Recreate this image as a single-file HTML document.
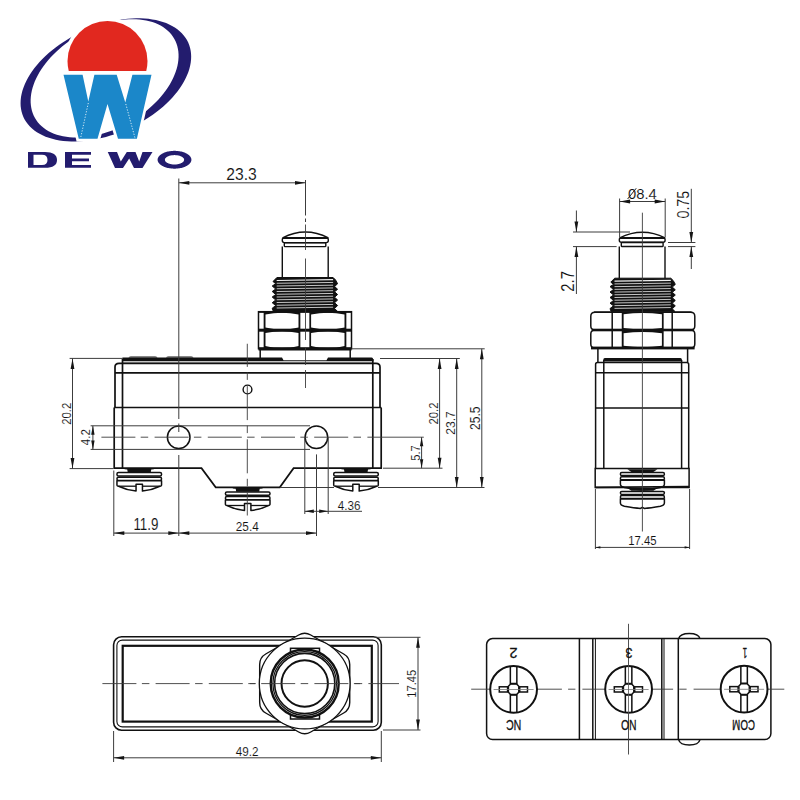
<!DOCTYPE html>
<html><head><meta charset="utf-8"><style>
html,body{margin:0;padding:0;background:#fff;}
svg{display:block;}
</style></head><body>
<svg width="800" height="800" viewBox="0 0 800 800">
<rect width="800" height="800" fill="#fff"/>
<path d="M188.23,42.62 L189.28,45.23 L190.10,47.95 L190.69,50.75 L191.05,53.63 L191.17,56.58 L191.06,59.59 L190.71,62.67 L190.13,65.78 L189.33,68.94 L188.29,72.13 L187.03,75.34 L185.54,78.56 L183.84,81.78 L181.92,85.00 L179.79,88.21 L177.46,91.39 L174.94,94.54 L172.22,97.65 L169.33,100.71 L166.26,103.72 L163.02,106.65 L159.63,109.52 L156.09,112.31 L152.41,115.00 L148.61,117.60 L144.68,120.10 L140.65,122.48 L136.53,124.75 L132.32,126.90 L128.04,128.92 L123.70,130.80 L119.31,132.54 L114.88,134.14 L110.43,135.59 L105.97,136.89 L101.50,138.03 L97.05,139.01 L92.62,139.83 L88.23,140.49 L83.88,140.98 L79.60,141.30 L75.39,141.45 L71.26,141.44 L67.23,141.25 L63.30,140.90 L59.49,140.38 L55.80,139.70 L52.26,138.85 L48.86,137.84 L45.61,136.67 L42.53,135.34 L39.63,133.87 L36.91,132.24 L34.37,130.47 L32.03,128.56 L29.90,126.52 L27.97,124.35 L26.26,122.06 L24.76,119.66 L23.49,117.14 L22.44,114.53 L21.62,111.81 L21.03,109.01 L20.67,106.13 L20.55,103.18 L20.66,100.17 L21.01,97.09 L21.59,93.98 L22.39,90.82 L23.43,87.63 L24.69,84.42 L26.18,81.20 L27.88,77.98 L29.80,74.76 L31.93,71.55 L34.26,68.37 L36.78,65.22 L39.50,62.11 L42.39,59.05 L45.46,56.04 L48.70,53.11 L52.09,50.24 L55.63,47.45 L59.31,44.76 L63.11,42.16 L67.04,39.66 L71.07,37.28 L75.19,35.01 L79.40,32.86 L83.68,30.84 L88.02,28.96 L92.41,27.22 L96.84,25.62 L101.29,24.17 L105.75,22.87 L110.22,21.73 L114.67,20.75 L119.10,19.93 L123.49,19.27 L127.84,18.78 L132.12,18.46 L136.33,18.31 L140.46,18.32 L144.49,18.51 L148.42,18.86 L152.23,19.38 L155.92,20.06 L159.46,20.91 L162.86,21.92 L166.11,23.09 L169.19,24.42 L172.09,25.89 L174.81,27.52 L177.35,29.29 L179.69,31.20 L181.82,33.24 L183.75,35.41 L185.46,37.70 L186.96,40.10 Z M174.21,38.65 L175.43,41.00 L176.45,43.46 L177.27,46.00 L177.89,48.64 L178.32,51.36 L178.54,54.15 L178.56,57.01 L178.37,59.93 L177.98,62.90 L177.40,65.91 L176.61,68.95 L175.62,72.02 L174.44,75.11 L173.07,78.20 L171.52,81.30 L169.77,84.39 L167.85,87.46 L165.76,90.51 L163.50,93.52 L161.07,96.50 L158.50,99.42 L155.77,102.28 L152.91,105.08 L149.91,107.81 L146.79,110.45 L143.55,113.01 L140.20,115.47 L136.76,117.84 L133.23,120.09 L129.62,122.23 L125.94,124.24 L122.21,126.14 L118.42,127.90 L114.60,129.52 L110.75,131.01 L106.88,132.35 L103.01,133.54 L99.14,134.58 L95.29,135.47 L91.46,136.20 L87.67,136.77 L83.93,137.19 L80.24,137.44 L76.61,137.53 L73.07,137.45 L69.61,137.22 L66.25,136.82 L62.99,136.27 L59.85,135.55 L56.82,134.68 L53.93,133.65 L51.18,132.48 L48.58,131.15 L46.13,129.68 L43.84,128.07 L41.71,126.32 L39.76,124.44 L37.98,122.43 L36.39,120.31 L34.99,118.07 L33.77,115.72 L32.75,113.26 L31.93,110.72 L31.31,108.08 L30.88,105.36 L30.66,102.57 L30.64,99.71 L30.83,96.79 L31.22,93.82 L31.80,90.81 L32.59,87.77 L33.58,84.70 L34.76,81.61 L36.13,78.52 L37.68,75.42 L39.43,72.33 L41.35,69.26 L43.44,66.21 L45.70,63.20 L48.13,60.22 L50.70,57.30 L53.43,54.44 L56.29,51.64 L59.29,48.91 L62.41,46.27 L65.65,43.71 L69.00,41.25 L72.44,38.88 L75.97,36.63 L79.58,34.49 L83.26,32.48 L86.99,30.58 L90.78,28.82 L94.60,27.20 L98.45,25.71 L102.32,24.37 L106.19,23.18 L110.06,22.14 L113.91,21.25 L117.74,20.52 L121.53,19.95 L125.27,19.53 L128.96,19.28 L132.59,19.19 L136.13,19.27 L139.59,19.50 L142.95,19.90 L146.21,20.45 L149.35,21.17 L152.38,22.04 L155.27,23.07 L158.02,24.24 L160.62,25.57 L163.07,27.04 L165.36,28.65 L167.49,30.40 L169.44,32.28 L171.22,34.29 L172.81,36.41 Z" fill="#231c6e" fill-rule="evenodd"/>
<clipPath id="rc"><rect x="0" y="0" width="300" height="71"/></clipPath>
<circle cx="107.5" cy="61" r="43.5" fill="#fff" clip-path="url(#rc)"/>
<circle cx="107.5" cy="61" r="40" fill="#e1281f" clip-path="url(#rc)"/>
<path d="M63.5,74.8 L82.6,74.8 L88.3,101.5 L94.4,74.8 L116.7,74.8 L125.3,102.5 L132.4,74.8 L151.5,74.8 L136.9,138.75 L118,138.75 L107.5,104 L97.5,138.75 L78.75,138.75 Z" fill="#fff" stroke="#fff" stroke-width="5.5" stroke-linejoin="miter"/>
<path d="M63.5,74.8 L82.6,74.8 L88.3,101.5 L94.4,74.8 L116.7,74.8 L125.3,102.5 L132.4,74.8 L151.5,74.8 L136.9,138.75 L118,138.75 L107.5,104 L97.5,138.75 L78.75,138.75 Z" fill="#1b87c9"/>
<path d="M88.3,103 L80.6,138 M125.8,104 L135,138" stroke="#fff" stroke-width="0.9" stroke-dasharray="1.2,1.6" opacity="0.9"/>
<path d="M28,152 H45 Q57,152 57,160 Q57,167.8 45,167.8 H28 Z M33.5,154.8 H42 Q47.5,154.8 47.5,160 Q47.5,165 42,165 H33.5 Z" fill="#231c6e" fill-rule="evenodd"/>
<path d="M65,152 H91 V154.8 H72 V158.6 H89 V161.2 H72 V165 H91 V167.8 H65 Z" fill="#231c6e"/>
<path d="M107.75,152 L117,152 L120.8,161.5 L126.8,152 L135.5,152 L139.2,161.5 L142.5,152 L152.5,152 L142.5,168 L134,168 L129.2,158.5 L123,168 L115,168 Z" fill="#231c6e"/>
<path d="M191.40,159.75 L191.38,160.22 L191.31,160.68 L191.19,161.14 L191.03,161.60 L190.82,162.05 L190.57,162.50 L190.28,162.94 L189.94,163.37 L189.56,163.79 L189.14,164.20 L188.67,164.60 L188.17,164.98 L187.63,165.35 L187.06,165.71 L186.45,166.04 L185.81,166.36 L185.14,166.67 L184.43,166.95 L183.70,167.21 L182.95,167.46 L182.17,167.68 L181.37,167.88 L180.56,168.06 L179.72,168.21 L178.87,168.35 L178.01,168.46 L177.14,168.54 L176.27,168.60 L175.38,168.64 L174.50,168.65 L173.62,168.64 L172.73,168.60 L171.86,168.54 L170.99,168.46 L170.13,168.35 L169.28,168.21 L168.44,168.06 L167.63,167.88 L166.83,167.68 L166.05,167.46 L165.30,167.21 L164.57,166.95 L163.86,166.67 L163.19,166.36 L162.55,166.04 L161.94,165.71 L161.37,165.35 L160.83,164.98 L160.33,164.60 L159.86,164.20 L159.44,163.79 L159.06,163.37 L158.72,162.94 L158.43,162.50 L158.18,162.05 L157.97,161.60 L157.81,161.14 L157.69,160.68 L157.62,160.22 L157.60,159.75 L157.62,159.28 L157.69,158.82 L157.81,158.36 L157.97,157.90 L158.18,157.45 L158.43,157.00 L158.72,156.56 L159.06,156.13 L159.44,155.71 L159.86,155.30 L160.33,154.90 L160.83,154.52 L161.37,154.15 L161.94,153.79 L162.55,153.46 L163.19,153.14 L163.86,152.83 L164.57,152.55 L165.30,152.29 L166.05,152.04 L166.83,151.82 L167.63,151.62 L168.44,151.44 L169.28,151.29 L170.13,151.15 L170.99,151.04 L171.86,150.96 L172.73,150.90 L173.62,150.86 L174.50,150.85 L175.38,150.86 L176.27,150.90 L177.14,150.96 L178.01,151.04 L178.87,151.15 L179.72,151.29 L180.56,151.44 L181.37,151.62 L182.17,151.82 L182.95,152.04 L183.70,152.29 L184.43,152.55 L185.14,152.83 L185.81,153.14 L186.45,153.46 L187.06,153.79 L187.63,154.15 L188.17,154.52 L188.67,154.90 L189.14,155.30 L189.56,155.71 L189.94,156.13 L190.28,156.56 L190.57,157.00 L190.82,157.45 L191.03,157.90 L191.19,158.36 L191.31,158.82 L191.38,159.28 Z M184.10,159.80 L184.09,160.05 L184.05,160.29 L183.98,160.54 L183.89,160.78 L183.77,161.02 L183.63,161.25 L183.46,161.48 L183.27,161.71 L183.05,161.93 L182.81,162.15 L182.55,162.36 L182.27,162.56 L181.96,162.76 L181.63,162.94 L181.29,163.12 L180.92,163.29 L180.54,163.45 L180.14,163.60 L179.73,163.74 L179.30,163.87 L178.86,163.99 L178.40,164.09 L177.94,164.19 L177.47,164.27 L176.98,164.34 L176.50,164.40 L176.00,164.44 L175.50,164.47 L175.00,164.49 L174.50,164.50 L174.00,164.49 L173.50,164.47 L173.00,164.44 L172.50,164.40 L172.02,164.34 L171.53,164.27 L171.06,164.19 L170.60,164.09 L170.14,163.99 L169.70,163.87 L169.27,163.74 L168.86,163.60 L168.46,163.45 L168.08,163.29 L167.71,163.12 L167.37,162.94 L167.04,162.76 L166.73,162.56 L166.45,162.36 L166.19,162.15 L165.95,161.93 L165.73,161.71 L165.54,161.48 L165.37,161.25 L165.23,161.02 L165.11,160.78 L165.02,160.54 L164.95,160.29 L164.91,160.05 L164.90,159.80 L164.91,159.55 L164.95,159.31 L165.02,159.06 L165.11,158.82 L165.23,158.58 L165.37,158.35 L165.54,158.12 L165.73,157.89 L165.95,157.67 L166.19,157.45 L166.45,157.24 L166.73,157.04 L167.04,156.84 L167.37,156.66 L167.71,156.48 L168.08,156.31 L168.46,156.15 L168.86,156.00 L169.27,155.86 L169.70,155.73 L170.14,155.61 L170.60,155.51 L171.06,155.41 L171.53,155.33 L172.02,155.26 L172.50,155.20 L173.00,155.16 L173.50,155.13 L174.00,155.11 L174.50,155.10 L175.00,155.11 L175.50,155.13 L176.00,155.16 L176.50,155.20 L176.98,155.26 L177.47,155.33 L177.94,155.41 L178.40,155.51 L178.86,155.61 L179.30,155.73 L179.73,155.86 L180.14,156.00 L180.54,156.15 L180.92,156.31 L181.29,156.48 L181.63,156.66 L181.96,156.84 L182.27,157.04 L182.55,157.24 L182.81,157.45 L183.05,157.67 L183.27,157.89 L183.46,158.12 L183.63,158.35 L183.77,158.58 L183.89,158.82 L183.98,159.06 L184.05,159.31 L184.09,159.55 Z" fill="#231c6e" fill-rule="evenodd"/>
<g fill="none" stroke="#111" stroke-width="1.7">
<path d="M115,407.5 V367 Q115,363.3 119,363.3 H376 Q380,363.3 380,367 V407.5"/>
<line x1="115" y1="372.8" x2="380" y2="372.8"/>
<line x1="114.2" y1="407.5" x2="381.2" y2="407.5"/>
<path d="M114.2,407.5 V468.2 H201.5 L215.7,487.3 H279.8 L293.6,468.2 H381.2 V407.5"/>
<line x1="122.5" y1="359" x2="122.5" y2="468.2"/>
<line x1="372.8" y1="359" x2="372.8" y2="468.2"/>
</g>
<path d="M122.5,357.5 H282 L283.5,360.2 H326.5 L328,357.5 H371.5 Q373.5,357.7 373.5,361.3 H122.5 Z" fill="#111"/>
<path d="M128.5,357.6 Q129,356.6 131,356.6 H155 Q157,356.6 157.5,357.6 Z M166,357.6 Q166.5,356.6 168.5,356.6 H191 Q193,356.6 193.5,357.6 Z" fill="#111"/>
<line x1="122.5" y1="363.3" x2="373" y2="363.3" stroke="#111" stroke-width="1.3"/>
<circle cx="178.7" cy="437.2" r="11.3" fill="none" stroke="#111" stroke-width="1.5"/>
<circle cx="316.4" cy="437.2" r="11.3" fill="none" stroke="#111" stroke-width="1.5"/>
<circle cx="247.5" cy="389.5" r="4.4" fill="none" stroke="#111" stroke-width="1.4"/>
<path d="M123.25,468.2 H155.25 Q154.25,469.5 151.25,469.5 L150.75,472.5 H127.75 L127.25,469.5 Q124.25,469.5 123.25,468.2 Z" fill="#111"/><rect x="116.95" y="472.59999999999997" width="44.6" height="3.4" rx="1.5" fill="#fff" stroke="#111" stroke-width="1.5"/><rect x="116.95" y="477.2" width="44.6" height="3.2" rx="1.5" fill="#fff" stroke="#111" stroke-width="1.5"/><path d="M116.95,480.7 H161.55 V485.2 Q161.55,486.2 159.25,486.5 Q151.25,490.4 142.45,491.09999999999997 V484.2 H136.05 V491.09999999999997 Q127.25,490.4 119.25,486.5 Q116.95,486.2 116.95,485.2 Z" fill="#fff" stroke="#111" stroke-width="1.5" stroke-linejoin="round"/><line x1="118.25" y1="486.2" x2="136.05" y2="486.2" stroke="#111" stroke-width="1.3"/><line x1="142.45" y1="486.2" x2="160.25" y2="486.2" stroke="#111" stroke-width="1.3"/>
<path d="M231.7,487.5 H263.7 Q262.7,488.8 259.7,488.8 L259.2,491.8 H236.2 L235.7,488.8 Q232.7,488.8 231.7,487.5 Z" fill="#111"/><rect x="225.39999999999998" y="491.9" width="44.6" height="3.4" rx="1.5" fill="#fff" stroke="#111" stroke-width="1.5"/><rect x="225.39999999999998" y="496.5" width="44.6" height="3.2" rx="1.5" fill="#fff" stroke="#111" stroke-width="1.5"/><path d="M225.39999999999998,500.0 H270.0 V504.5 Q270.0,505.5 267.7,505.8 Q259.7,509.7 250.89999999999998,510.4 V503.5 H244.5 V510.4 Q235.7,509.7 227.7,505.8 Q225.39999999999998,505.5 225.39999999999998,504.5 Z" fill="#fff" stroke="#111" stroke-width="1.5" stroke-linejoin="round"/><line x1="226.7" y1="505.5" x2="244.5" y2="505.5" stroke="#111" stroke-width="1.3"/><line x1="250.89999999999998" y1="505.5" x2="268.7" y2="505.5" stroke="#111" stroke-width="1.3"/>
<path d="M340,468.2 H372 Q371,469.5 368,469.5 L367.5,472.5 H344.5 L344,469.5 Q341,469.5 340,468.2 Z" fill="#111"/><rect x="333.7" y="472.59999999999997" width="44.6" height="3.4" rx="1.5" fill="#fff" stroke="#111" stroke-width="1.5"/><rect x="333.7" y="477.2" width="44.6" height="3.2" rx="1.5" fill="#fff" stroke="#111" stroke-width="1.5"/><path d="M333.7,480.7 H378.3 V485.2 Q378.3,486.2 376,486.5 Q368,490.4 359.2,491.09999999999997 V484.2 H352.8 V491.09999999999997 Q344,490.4 336,486.5 Q333.7,486.2 333.7,485.2 Z" fill="#fff" stroke="#111" stroke-width="1.5" stroke-linejoin="round"/><line x1="335" y1="486.2" x2="352.8" y2="486.2" stroke="#111" stroke-width="1.3"/><line x1="359.2" y1="486.2" x2="377" y2="486.2" stroke="#111" stroke-width="1.3"/>
<path d="M260.2,348.4 V358 M350.2,348.4 V358" stroke="#111" stroke-width="1.5"/>
<rect x="264.4" y="311.7" width="35.200000000000045" height="18.30000000000001" fill="#111"/><path d="M265.4,314.5 Q282.0,311.0 298.6,314.5 L298.6,327.5 Q282.0,331.3 265.4,327.5 Z" fill="#fff"/><rect x="310.1" y="311.7" width="35.5" height="18.30000000000001" fill="#111"/><path d="M311.1,314.5 Q327.85,311.0 344.6,314.5 L344.6,327.5 Q327.85,331.3 311.1,327.5 Z" fill="#fff"/><rect x="264.4" y="330.0" width="35.200000000000045" height="18.80000000000001" fill="#111"/><path d="M265.4,333.1 Q282.0,329.4 298.6,333.1 L298.6,345.9 Q282.0,350.3 265.4,345.9 Z" fill="#fff"/><rect x="310.1" y="330.0" width="35.5" height="18.80000000000001" fill="#111"/><path d="M311.1,333.1 Q327.85,329.4 344.6,333.1 L344.6,345.9 Q327.85,350.3 311.1,345.9 Z" fill="#fff"/><g fill="none" stroke="#111" stroke-width="1.5"><rect x="258.5" y="311.7" width="93" height="37"/><line x1="264.4" y1="311.5" x2="264.4" y2="348.8"/><line x1="299.6" y1="311.5" x2="299.6" y2="348.8"/><line x1="310.1" y1="311.5" x2="310.1" y2="348.8"/><line x1="345.6" y1="311.5" x2="345.6" y2="348.8"/></g><rect x="258.5" y="311" width="93" height="1.8" fill="#111"/><rect x="258.5" y="328.7" width="93" height="3" fill="#111"/><rect x="258.5" y="347.2" width="93" height="3.3" fill="#111"/>
<path d="M276.90,277.50 L333.10,277.50 L335.60,280.00 L337.60,283.75 L334.60,286.50 L337.60,289.25 L334.60,291.75 L337.60,294.50 L334.60,297.25 L337.60,300.00 L334.60,302.75 L337.60,305.50 L334.60,308.50 L337.10,311.00 L273.20,311.00 L272.20,308.25 L275.70,305.50 L272.20,302.75 L275.70,300.00 L272.20,297.00 L275.70,294.50 L272.20,291.50 L275.70,289.00 L272.20,286.00 L275.70,283.75 L273.00,281.50 Z" fill="#111" stroke="#111" stroke-width="1" stroke-linejoin="round"/><line x1="276.7" y1="280.50" x2="333.1" y2="279.70" stroke="#fff" stroke-width="1.2" opacity="0.95"/><line x1="276.7" y1="283.25" x2="333.1" y2="282.45" stroke="#fff" stroke-width="0.95" opacity="0.8"/><line x1="276.7" y1="286.00" x2="333.1" y2="285.20" stroke="#fff" stroke-width="0.95" opacity="0.8"/><line x1="276.7" y1="288.75" x2="333.1" y2="287.95" stroke="#fff" stroke-width="0.95" opacity="0.8"/><line x1="276.7" y1="291.50" x2="333.1" y2="290.70" stroke="#fff" stroke-width="0.95" opacity="0.8"/><line x1="276.7" y1="294.25" x2="333.1" y2="293.45" stroke="#fff" stroke-width="0.95" opacity="0.8"/><line x1="276.7" y1="297.00" x2="333.1" y2="296.20" stroke="#fff" stroke-width="0.95" opacity="0.8"/><line x1="276.7" y1="299.75" x2="333.1" y2="298.95" stroke="#fff" stroke-width="0.95" opacity="0.8"/><line x1="276.7" y1="302.50" x2="333.1" y2="301.70" stroke="#fff" stroke-width="0.95" opacity="0.8"/><line x1="276.7" y1="305.25" x2="333.1" y2="304.45" stroke="#fff" stroke-width="0.95" opacity="0.8"/><line x1="276.7" y1="308.00" x2="333.1" y2="307.20" stroke="#fff" stroke-width="0.95" opacity="0.8"/>
<g fill="none" stroke="#111" stroke-width="1.4">
<path d="M282.6,237.8 Q305.3,226.3 328.4,237.8"/>
<rect x="282.3" y="237.8" width="46" height="4.8" rx="2"/>
<rect x="284.3" y="242.8" width="41.5" height="3.8" rx="0.8"/>
<path d="M282.3,246.6 V277.8 M328.2,246.6 V277.8"/>
</g>
<line x1="283" y1="237.9" x2="328" y2="237.9" stroke="#111" stroke-width="2"/>
<line x1="178.8" y1="178.5" x2="178.8" y2="419" stroke="#3c3c3c" stroke-width="1.0" />
<line x1="178.8" y1="423.5" x2="178.8" y2="432" stroke="#3c3c3c" stroke-width="1.0" />
<line x1="178.8" y1="455" x2="178.8" y2="536" stroke="#3c3c3c" stroke-width="1.0" />
<line x1="305.5" y1="180" x2="305.5" y2="215.5" stroke="#3c3c3c" stroke-width="1.0" />
<line x1="305.5" y1="218.5" x2="305.5" y2="222" stroke="#3c3c3c" stroke-width="1.0" />
<line x1="305.5" y1="224.5" x2="305.5" y2="250" stroke="#3c3c3c" stroke-width="0.9" />
<line x1="305.5" y1="258.5" x2="305.5" y2="340" stroke="#3c3c3c" stroke-width="0.9" />
<line x1="305.5" y1="347.5" x2="305.5" y2="365" stroke="#3c3c3c" stroke-width="0.9" />
<line x1="305.5" y1="370" x2="305.5" y2="388" stroke="#3c3c3c" stroke-width="0.9" />
<line x1="178.8" y1="182.8" x2="305.5" y2="182.8" stroke="#3c3c3c" stroke-width="1.0" />
<path d="M178.80,182.80 L189.30,180.90 L189.30,184.70 Z" fill="#151515"/>
<path d="M305.50,182.80 L295.00,184.70 L295.00,180.90 Z" fill="#151515"/>
<text x="0" y="0" font-size="16.596" fill="#111" stroke="#fff" stroke-width="0.1" font-family="Liberation Sans, sans-serif" transform="translate(226.22 179.83) rotate(0) scale(0.9435 1)">23.3</text>
<line x1="247.3" y1="343.75" x2="247.3" y2="515.5" stroke="#3c3c3c" stroke-width="0.9" stroke-dasharray="34,5.5,7.5,6.2" stroke-dashoffset="10.85"/>
<line x1="101.4" y1="437.2" x2="395" y2="437.2" stroke="#3c3c3c" stroke-width="0.9" stroke-dasharray="34,5.3,7.5,6.4" stroke-dashoffset="0"/>
<line x1="395" y1="437.2" x2="423.8" y2="437.2" stroke="#3c3c3c" stroke-width="0.9" />
<line x1="90.6" y1="425.8" x2="310" y2="425.8" stroke="#3c3c3c" stroke-width="1.0" />
<line x1="90.6" y1="449.4" x2="310" y2="449.4" stroke="#3c3c3c" stroke-width="1.0" />
<line x1="92.9" y1="425.8" x2="92.9" y2="449.4" stroke="#3c3c3c" stroke-width="1.0" />
<path d="M92.90,425.80 L94.60,434.80 L91.20,434.80 Z" fill="#151515"/>
<path d="M92.90,449.40 L91.20,440.40 L94.60,440.40 Z" fill="#151515"/>
<text x="0" y="0" font-size="13.252" fill="#111" stroke="#fff" stroke-width="0.1" font-family="Liberation Sans, sans-serif" transform="translate(90.25 445.16) rotate(-90) scale(0.8760 1)">4.2</text>
<line x1="69.6" y1="358.4" x2="123" y2="358.4" stroke="#3c3c3c" stroke-width="1.0" />
<line x1="69.6" y1="468.6" x2="113.4" y2="468.6" stroke="#3c3c3c" stroke-width="1.0" />
<line x1="72.5" y1="358.4" x2="72.5" y2="468.6" stroke="#3c3c3c" stroke-width="1.0" />
<path d="M72.50,358.40 L74.40,368.90 L70.60,368.90 Z" fill="#151515"/>
<path d="M72.50,468.60 L70.60,458.10 L74.40,458.10 Z" fill="#151515"/>
<text x="0" y="0" font-size="13.701" fill="#111" stroke="#fff" stroke-width="0.1" font-family="Liberation Sans, sans-serif" transform="translate(70.56 424.82) rotate(-90) scale(0.8283 1)">20.2</text>
<line x1="351.6" y1="348.8" x2="484.7" y2="348.8" stroke="#3c3c3c" stroke-width="1.0" />
<line x1="380" y1="358.5" x2="459.8" y2="358.5" stroke="#3c3c3c" stroke-width="1.0" />
<line x1="383" y1="468.2" x2="442.5" y2="468.2" stroke="#3c3c3c" stroke-width="1.0" />
<line x1="280" y1="487.5" x2="334" y2="487.5" stroke="#3c3c3c" stroke-width="1.0" />
<line x1="378" y1="487.5" x2="484.5" y2="487.5" stroke="#3c3c3c" stroke-width="1.0" />
<line x1="439.6" y1="358.5" x2="439.6" y2="468.2" stroke="#3c3c3c" stroke-width="1.0" />
<path d="M439.60,358.50 L441.50,369.00 L437.70,369.00 Z" fill="#151515"/>
<path d="M439.60,468.20 L437.70,457.70 L441.50,457.70 Z" fill="#151515"/>
<line x1="456.7" y1="358.5" x2="456.7" y2="487.5" stroke="#3c3c3c" stroke-width="1.0" />
<path d="M456.70,358.50 L458.60,369.00 L454.80,369.00 Z" fill="#151515"/>
<path d="M456.70,487.50 L454.80,477.00 L458.60,477.00 Z" fill="#151515"/>
<line x1="481.8" y1="348.8" x2="481.8" y2="487.5" stroke="#3c3c3c" stroke-width="1.0" />
<path d="M481.80,348.80 L483.70,359.30 L479.90,359.30 Z" fill="#151515"/>
<path d="M481.80,487.50 L479.90,477.00 L483.70,477.00 Z" fill="#151515"/>
<line x1="421.6" y1="437.2" x2="421.6" y2="468.2" stroke="#3c3c3c" stroke-width="1.0" />
<path d="M421.60,437.20 L423.30,446.20 L419.90,446.20 Z" fill="#151515"/>
<path d="M421.60,468.20 L419.90,459.20 L423.30,459.20 Z" fill="#151515"/>
<text x="0" y="0" font-size="13.559" fill="#111" stroke="#fff" stroke-width="0.1" font-family="Liberation Sans, sans-serif" transform="translate(438.36 424.57) rotate(-90) scale(0.8350 1)">20.2</text>
<text x="0" y="0" font-size="13.136" fill="#111" stroke="#fff" stroke-width="0.1" font-family="Liberation Sans, sans-serif" transform="translate(455.07 434.70) rotate(-90) scale(0.9197 1)">23.7</text>
<text x="0" y="0" font-size="13.983" fill="#111" stroke="#fff" stroke-width="0.1" font-family="Liberation Sans, sans-serif" transform="translate(479.76 429.95) rotate(-90) scale(0.8621 1)">25.5</text>
<text x="0" y="0" font-size="12.464" fill="#111" stroke="#fff" stroke-width="0.1" font-family="Liberation Sans, sans-serif" transform="translate(419.78 460.64) rotate(-90) scale(0.8887 1)">5.7</text>
<line x1="113.8" y1="470.5" x2="113.8" y2="536" stroke="#3c3c3c" stroke-width="1.0" />
<line x1="113.8" y1="533.1" x2="316.5" y2="533.1" stroke="#3c3c3c" stroke-width="1.0" />
<path d="M113.80,533.10 L124.30,531.20 L124.30,535.00 Z" fill="#151515"/>
<path d="M178.80,533.10 L168.30,535.00 L168.30,531.20 Z" fill="#151515"/>
<path d="M178.80,533.10 L189.30,531.20 L189.30,535.00 Z" fill="#151515"/>
<path d="M316.50,533.10 L306.00,535.00 L306.00,531.20 Z" fill="#151515"/>
<text x="0" y="0" font-size="15.890" fill="#111" stroke="#fff" stroke-width="0.1" font-family="Liberation Sans, sans-serif" transform="translate(133.38 529.84) rotate(0) scale(0.8407 1)">11.9</text>
<text x="0" y="0" font-size="12.712" fill="#111" stroke="#fff" stroke-width="0.1" font-family="Liberation Sans, sans-serif" transform="translate(235.81 530.87) rotate(0) scale(0.9275 1)">25.4</text>
<line x1="304.8" y1="437.2" x2="304.8" y2="514" stroke="#3c3c3c" stroke-width="1.0" />
<line x1="316.5" y1="454.4" x2="316.5" y2="536" stroke="#3c3c3c" stroke-width="1.0" />
<line x1="328.2" y1="437.2" x2="328.2" y2="514" stroke="#3c3c3c" stroke-width="1.0" />
<line x1="304.8" y1="511.3" x2="362" y2="511.3" stroke="#3c3c3c" stroke-width="1.0" />
<path d="M304.80,511.30 L313.80,509.60 L313.80,513.00 Z" fill="#151515"/>
<path d="M328.20,511.30 L319.20,513.00 L319.20,509.60 Z" fill="#151515"/>
<text x="0" y="0" font-size="12.147" fill="#111" stroke="#fff" stroke-width="0.1" font-family="Liberation Sans, sans-serif" transform="translate(337.74 509.88) rotate(0) scale(0.9634 1)">4.36</text>
<g fill="none" stroke="#111" stroke-width="1.4">
<path d="M619.7,237.8 Q642.4,226.8 665,237.8"/>
<rect x="619.3" y="237.8" width="45.8" height="4.5" rx="2"/>
<rect x="621.3" y="242.5" width="41.8" height="4" rx="0.8"/>
<path d="M619.3,246.5 V278.4 M665,246.5 V278.4"/>
</g>
<line x1="620" y1="238" x2="664.5" y2="238" stroke="#111" stroke-width="2"/>
<path d="M614.70,278.20 L670.80,278.20 L673.30,280.67 L675.30,284.38 L672.30,287.09 L675.30,289.81 L672.30,292.28 L675.30,295.00 L672.30,297.71 L675.30,300.43 L672.30,303.15 L675.30,305.87 L672.30,308.83 L674.80,311.30 L611.00,311.30 L610.00,308.58 L613.50,305.87 L610.00,303.15 L613.50,300.43 L610.00,297.47 L613.50,295.00 L610.00,292.03 L613.50,289.56 L610.00,286.60 L613.50,284.38 L610.80,282.15 Z" fill="#111" stroke="#111" stroke-width="1" stroke-linejoin="round"/><line x1="614.5" y1="281.20" x2="670.8" y2="280.40" stroke="#fff" stroke-width="1.2" opacity="0.95"/><line x1="614.5" y1="283.92" x2="670.8" y2="283.12" stroke="#fff" stroke-width="0.95" opacity="0.8"/><line x1="614.5" y1="286.63" x2="670.8" y2="285.83" stroke="#fff" stroke-width="0.95" opacity="0.8"/><line x1="614.5" y1="289.35" x2="670.8" y2="288.55" stroke="#fff" stroke-width="0.95" opacity="0.8"/><line x1="614.5" y1="292.07" x2="670.8" y2="291.27" stroke="#fff" stroke-width="0.95" opacity="0.8"/><line x1="614.5" y1="294.79" x2="670.8" y2="293.99" stroke="#fff" stroke-width="0.95" opacity="0.8"/><line x1="614.5" y1="297.50" x2="670.8" y2="296.70" stroke="#fff" stroke-width="0.95" opacity="0.8"/><line x1="614.5" y1="300.22" x2="670.8" y2="299.42" stroke="#fff" stroke-width="0.95" opacity="0.8"/><line x1="614.5" y1="302.94" x2="670.8" y2="302.14" stroke="#fff" stroke-width="0.95" opacity="0.8"/><line x1="614.5" y1="305.65" x2="670.8" y2="304.85" stroke="#fff" stroke-width="0.95" opacity="0.8"/><line x1="614.5" y1="308.37" x2="670.8" y2="307.57" stroke="#fff" stroke-width="0.95" opacity="0.8"/>
<rect x="622.5" y="312.2" width="40.39999999999998" height="17.80000000000001" fill="#111"/><path d="M623.5,314.3 Q642.7,311.5 661.9,314.3 L661.9,328 Q642.7,330.8 623.5,328 Z" fill="#fff"/><g fill="none" stroke="#111" stroke-width="1.5"><path d="M595,312.2 H612.2 V330 H595 Q590.8,330 590.8,326 V316.2 Q590.8,312.2 595,312.2 Z"/><path d="M690.6,312.2 H672.2 V330 H690.6 Q694.8,330 694.8,326 V316.2 Q694.8,312.2 690.6,312.2 Z"/><path d="M612.2,312.2 H672.2 M612.2,330 H672.2 M622.5,312.2 V330 M662.9,312.2 V330"/></g><rect x="622.5" y="330" width="40.39999999999998" height="17.899999999999977" fill="#111"/><path d="M623.5,333.2 Q642.7,330.8 661.9,333.2 L661.9,345.8 Q642.7,348.6 623.5,345.8 Z" fill="#fff"/><g fill="none" stroke="#111" stroke-width="1.5"><path d="M595,330 H612.2 V347.9 H595 Q590.8,347.9 590.8,343.9 V334 Q590.8,330 595,330 Z"/><path d="M690.6,330 H672.2 V347.9 H690.6 Q694.8,347.9 694.8,343.9 V334 Q694.8,330 690.6,330 Z"/><path d="M612.2,330 H672.2 M612.2,347.9 H672.2 M622.5,330 V347.9 M662.9,330 V347.9"/></g><rect x="591" y="346.6" width="103.6" height="2.8" fill="#111"/><rect x="592" y="328.7" width="101.6" height="2.6" fill="#111"/><rect x="594" y="311.4" width="97.6" height="1.6" fill="#111"/>
<path d="M597.9,348 V362 M687.6,348 V362" stroke="#111" stroke-width="1.5"/>
<rect x="603.3" y="357.9" width="78.6" height="3.7" rx="1.5" fill="#111"/>
<g fill="none" stroke="#111" stroke-width="1.5">
<path d="M595.6,468.5 V364.5 Q595.6,362.6 597.5,362.6 H686.8 Q688.7,362.6 688.7,364.5 V468.5"/>
<line x1="603.8" y1="360" x2="603.8" y2="468.5"/>
<line x1="681.6" y1="360" x2="681.6" y2="468.5"/>
<line x1="595.2" y1="372.8" x2="689.1" y2="372.8"/>
<line x1="595.2" y1="408" x2="689.1" y2="408"/>
<path d="M595.2,468.5 H689.1 V487.5 H595.2 Z"/>
</g>
<path d="M627.4,469.2 H657.4 L653.4,472 H631.4 Z" fill="#111"/><rect x="620.4" y="472.6" width="44" height="3" rx="1.4" fill="#fff" stroke="#111" stroke-width="1.5"/><rect x="620.4" y="476.8" width="44" height="3" rx="1.4" fill="#fff" stroke="#111" stroke-width="1.5"/><path d="M620.4,480.2 H664.4 V484.2 Q664.4,486.5 660.4,487.5 Q650.4,489.5 642.4,490 Q634.4,489.2 624.4,487.5 Q620.4,486.5 620.4,484.2 Z" fill="#fff" stroke="#111" stroke-width="1.5"/>
<path d="M627.4,488.0 H657.4 L653.4,490.8 H631.4 Z" fill="#111"/><rect x="620.4" y="491.40000000000003" width="44" height="3" rx="1.4" fill="#fff" stroke="#111" stroke-width="1.5"/><rect x="620.4" y="495.6" width="44" height="3" rx="1.4" fill="#fff" stroke="#111" stroke-width="1.5"/><path d="M620.4,499.0 H664.4 V503.0 Q664.4,505.3 660.4,506.3 Q650.4,508.0 644.4,508.5 L642.4,507.40000000000003 L640.4,508.5 Q634.4,508.0 624.4,506.3 Q620.4,505.3 620.4,503.0 Z" fill="#fff" stroke="#111" stroke-width="1.5"/>
<path d="M595.2,487.3 L689.1,486.6" stroke="#111" stroke-width="1.8"/>
<line x1="642.4" y1="212.7" x2="642.4" y2="531.5" stroke="#3c3c3c" stroke-width="0.9" />
<line x1="619.6" y1="198.5" x2="619.6" y2="237.5" stroke="#3c3c3c" stroke-width="1.0" />
<line x1="665.2" y1="198.5" x2="665.2" y2="237.5" stroke="#3c3c3c" stroke-width="1.0" />
<line x1="619.6" y1="201.5" x2="665.2" y2="201.5" stroke="#3c3c3c" stroke-width="1.0" />
<path d="M619.60,201.50 L630.10,199.60 L630.10,203.40 Z" fill="#151515"/>
<path d="M665.20,201.50 L654.70,203.40 L654.70,199.60 Z" fill="#151515"/>
<text x="0" y="0" font-size="14.477" fill="#111" stroke="#fff" stroke-width="0.1" font-family="Liberation Sans, sans-serif" transform="translate(628.01 198.61) rotate(0) scale(1.0199 1)">08.4</text>
<line x1="627.6" y1="199" x2="636.2" y2="188.3" stroke="#222" stroke-width="1"/>
<line x1="573" y1="232" x2="630" y2="232" stroke="#3c3c3c" stroke-width="1.0" />
<line x1="573" y1="246.6" x2="616.6" y2="246.6" stroke="#3c3c3c" stroke-width="1.0" />
<line x1="576.4" y1="210.5" x2="576.4" y2="232" stroke="#3c3c3c" stroke-width="1.0" />
<path d="M576.40,232.00 L574.50,221.50 L578.30,221.50 Z" fill="#151515"/>
<line x1="576.4" y1="246.6" x2="576.4" y2="294" stroke="#3c3c3c" stroke-width="1.0" />
<path d="M576.40,246.60 L578.30,257.10 L574.50,257.10 Z" fill="#151515"/>
<text x="0" y="0" font-size="17.693" fill="#111" stroke="#fff" stroke-width="0.1" font-family="Liberation Sans, sans-serif" transform="translate(573.75 291.64) rotate(-90) scale(0.8390 1)">2.7</text>
<line x1="668" y1="242.5" x2="695.4" y2="242.5" stroke="#3c3c3c" stroke-width="1.0" />
<line x1="668" y1="246.6" x2="695.4" y2="246.6" stroke="#3c3c3c" stroke-width="1.0" />
<line x1="691.3" y1="188.8" x2="691.3" y2="242.5" stroke="#3c3c3c" stroke-width="1.0" />
<path d="M691.30,242.50 L689.40,232.00 L693.20,232.00 Z" fill="#151515"/>
<line x1="691.3" y1="246.6" x2="691.3" y2="269" stroke="#3c3c3c" stroke-width="1.0" />
<path d="M691.30,246.60 L693.20,257.10 L689.40,257.10 Z" fill="#151515"/>
<text x="0" y="0" font-size="16.737" fill="#111" stroke="#fff" stroke-width="0.1" font-family="Liberation Sans, sans-serif" transform="translate(688.58 218.57) rotate(-90) scale(0.8558 1)">0.75</text>
<line x1="595.4" y1="489" x2="595.4" y2="549" stroke="#3c3c3c" stroke-width="1.0" />
<line x1="689.6" y1="489" x2="689.6" y2="549" stroke="#3c3c3c" stroke-width="1.0" />
<line x1="595.4" y1="547.4" x2="689.6" y2="547.4" stroke="#3c3c3c" stroke-width="1.0" />
<path d="M595.40,547.40 L600.40,546.20 L600.40,548.60 Z" fill="#151515"/>
<path d="M689.60,547.40 L684.60,548.60 L684.60,546.20 Z" fill="#151515"/>
<text x="0" y="0" font-size="13.324" fill="#111" stroke="#fff" stroke-width="0.1" font-family="Liberation Sans, sans-serif" transform="translate(628.14 545.37) rotate(0) scale(0.8500 1)">17.45</text>
<g fill="none" stroke="#111" stroke-width="1.6">
<rect x="113.6" y="636.8" width="267.7" height="93.4" rx="8"/>
<rect x="116.9" y="640.1" width="261.2" height="86.8" rx="5.5" stroke-width="1.1"/>
</g>
<rect x="122.7" y="645.8" width="249.1" height="75.8" fill="none" stroke="#111" stroke-width="2.2"/>
<line x1="102.4" y1="683.6" x2="399" y2="683.6" stroke="#3c3c3c" stroke-width="0.9" stroke-dasharray="34,5.5,7.5,6.2" stroke-dashoffset="0"/>
<path d="M310.76,635.00 Q304.70,631.50 298.64,635.00 L265.73,654.00 Q259.67,657.50 259.67,664.50 L259.67,702.50 Q259.67,709.50 265.73,713.00 L298.64,732.00 Q304.70,735.50 310.76,732.00 L343.67,713.00 Q349.73,709.50 349.73,702.50 L349.73,664.50 Q349.73,657.50 343.67,654.00 Z" fill="#fff" stroke="#111" stroke-width="1.4"/>
<circle cx="304.7" cy="683.5" r="45.4" fill="#fff" stroke="#111" stroke-width="1.3"/>
<rect x="290.5" y="648.3" width="29" height="5.8" fill="#fff" stroke="#111" stroke-width="1.5"/>
<rect x="290.5" y="713.2" width="29" height="5.8" fill="#fff" stroke="#111" stroke-width="1.5"/>
<circle cx="304.7" cy="683.5" r="34" fill="#fff" stroke="#111" stroke-width="2.4"/>
<circle cx="304.7" cy="683.5" r="31.8" fill="none" stroke="#111" stroke-width="1.2"/>
<circle cx="304.7" cy="683.5" r="30.1" fill="none" stroke="#111" stroke-width="1.6"/>
<circle cx="304.7" cy="683.5" r="23.2" fill="none" stroke="#111" stroke-width="2"/>
<line x1="250" y1="683.6" x2="360" y2="683.6" stroke="#3c3c3c" stroke-width="0.9" stroke-dasharray="34,5.5,7.5,6.2" stroke-dashoffset="148.4"/>
<line x1="375" y1="637.3" x2="420.5" y2="637.3" stroke="#3c3c3c" stroke-width="1.0" />
<line x1="383" y1="730" x2="420.5" y2="730" stroke="#3c3c3c" stroke-width="1.0" />
<line x1="418" y1="637.3" x2="418" y2="730" stroke="#3c3c3c" stroke-width="1.0" />
<path d="M418.00,637.30 L419.90,647.80 L416.10,647.80 Z" fill="#151515"/>
<path d="M418.00,730.00 L416.10,719.50 L419.90,719.50 Z" fill="#151515"/>
<text x="0" y="0" font-size="13.610" fill="#111" stroke="#fff" stroke-width="0.1" font-family="Liberation Sans, sans-serif" transform="translate(415.86 697.75) rotate(-90) scale(0.8198 1)">17.45</text>
<line x1="113.6" y1="731" x2="113.6" y2="762" stroke="#3c3c3c" stroke-width="1.0" />
<line x1="381.3" y1="731" x2="381.3" y2="762" stroke="#3c3c3c" stroke-width="1.0" />
<line x1="113.6" y1="757.8" x2="381.3" y2="757.8" stroke="#3c3c3c" stroke-width="1.0" />
<path d="M113.60,757.80 L124.10,755.90 L124.10,759.70 Z" fill="#151515"/>
<path d="M381.30,757.80 L370.80,759.70 L370.80,755.90 Z" fill="#151515"/>
<text x="0" y="0" font-size="12.359" fill="#111" stroke="#fff" stroke-width="0.1" font-family="Liberation Sans, sans-serif" transform="translate(235.84 755.63) rotate(0) scale(0.9456 1)">49.2</text>
<g fill="none" stroke="#111" stroke-width="1.5">
<path d="M678.6,638.8 Q680,633.6 689.3,633.6 Q698.6,633.6 700,638.8"/>
<path d="M678.6,739.6 Q680,745 689.3,745 Q698.6,745 700,739.6"/>
<rect x="486.6" y="638.6" width="284.3" height="101" rx="6"/>
<line x1="579.4" y1="638.6" x2="579.4" y2="739.6"/>
<line x1="592.8" y1="638.6" x2="592.8" y2="739.6"/>
<line x1="595.4" y1="638.6" x2="595.4" y2="739.6" stroke-width="1"/>
<line x1="661.8" y1="638.6" x2="661.8" y2="739.6"/>
<line x1="664" y1="638.6" x2="664" y2="739.6" stroke-width="1"/>
<line x1="678.3" y1="638.6" x2="678.3" y2="739.6"/>
</g>
<line x1="471.2" y1="689.2" x2="788" y2="689.2" stroke="#3c3c3c" stroke-width="0.9" stroke-dasharray="90.7,6.2,7.3,7" stroke-dashoffset="0"/>
<line x1="628.5" y1="623.8" x2="628.5" y2="754.5" stroke="#3c3c3c" stroke-width="0.9" />
<circle cx="513.6" cy="689.3" r="23.4" fill="#fff" stroke="#111" stroke-width="2"/><g fill="none" stroke="#111" stroke-width="1.5"><path d="M510.35,666.0 V683.5 H516.85 V666.0"/><path d="M510.35,712.5999999999999 V695.0999999999999 H516.85 V712.5999999999999"/><rect x="499.3" y="686.8" width="8.3" height="5.2"/><rect x="519.7" y="686.8" width="7.8" height="5.2"/><path d="M510.6,684.0 H516.6 L518.8000000000001,686.3 V692.3 L516.6,694.5999999999999 H510.6 L508.40000000000003,692.3 V686.3 Z"/></g>
<line x1="493.6" y1="689.5" x2="533.6" y2="689.5" stroke="#777" stroke-width="0.8" />
<circle cx="628.6" cy="689.3" r="23.4" fill="#fff" stroke="#111" stroke-width="2"/><g fill="none" stroke="#111" stroke-width="1.5"><path d="M625.35,666.0 V683.5 H631.85 V666.0"/><path d="M625.35,712.5999999999999 V695.0999999999999 H631.85 V712.5999999999999"/><rect x="614.3000000000001" y="686.8" width="8.3" height="5.2"/><rect x="634.7" y="686.8" width="7.8" height="5.2"/><path d="M625.6,684.0 H631.6 L633.8000000000001,686.3 V692.3 L631.6,694.5999999999999 H625.6 L623.4,692.3 V686.3 Z"/></g>
<line x1="608.6" y1="689.5" x2="648.6" y2="689.5" stroke="#777" stroke-width="0.8" />
<circle cx="744.1" cy="689.1" r="23.4" fill="#fff" stroke="#111" stroke-width="2"/><g fill="none" stroke="#111" stroke-width="1.5"><path d="M740.85,665.8000000000001 V683.3000000000001 H747.35 V665.8000000000001"/><path d="M740.85,712.4 V694.9 H747.35 V712.4"/><rect x="729.8000000000001" y="686.6" width="8.3" height="5.2"/><rect x="750.2" y="686.6" width="7.8" height="5.2"/><path d="M741.1,683.8000000000001 H747.1 L749.3000000000001,686.1 V692.1 L747.1,694.4 H741.1 L738.9,692.1 V686.1 Z"/></g>
<line x1="724.1" y1="689.3000000000001" x2="764.1" y2="689.3000000000001" stroke="#777" stroke-width="0.8" />
<line x1="628.5" y1="664" x2="628.5" y2="715" stroke="#555" stroke-width="0.8" />
<text x="0" y="0" font-size="14.756" fill="#111" stroke="#111" stroke-width="0.3" font-family="Liberation Sans, sans-serif" transform="translate(517.42 647.70) rotate(180) scale(0.9808 1)">2</text>
<text x="0" y="0" font-size="13.983" fill="#111" stroke="#111" stroke-width="0.3" font-family="Liberation Sans, sans-serif" transform="translate(632.38 648.04) rotate(180) scale(0.9053 1)">3</text>
<text x="0" y="0" font-size="14.971" fill="#111" stroke="#111" stroke-width="0.3" font-family="Liberation Sans, sans-serif" transform="translate(747.13 647.70) rotate(180) scale(0.5566 1)">1</text>
<text x="0" y="0" font-size="14.548" fill="#111" stroke="#111" stroke-width="0.3" font-family="Liberation Sans, sans-serif" transform="translate(521.27 720.25) rotate(180) scale(0.7268 1)">NC</text>
<text x="0" y="0" font-size="14.831" fill="#111" stroke="#111" stroke-width="0.3" font-family="Liberation Sans, sans-serif" transform="translate(636.44 720.05) rotate(180) scale(0.6891 1)">NO</text>
<text x="0" y="0" font-size="14.477" fill="#111" stroke="#111" stroke-width="0.3" font-family="Liberation Sans, sans-serif" transform="translate(754.99 720.14) rotate(180) scale(0.6750 1)">COM</text>
</svg></body></html>
